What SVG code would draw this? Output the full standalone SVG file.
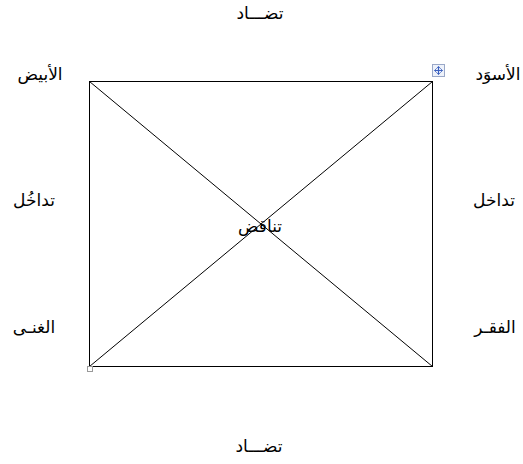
<svg xmlns="http://www.w3.org/2000/svg" width="523" height="464" viewBox="0 0 523 464">
<style>
text{font-family:"Liberation Serif","DejaVu Sans",serif;font-size:17px;fill:#000;text-anchor:middle;direction:rtl}
.ln{stroke:#000;stroke-width:1;fill:none}
</style>
<rect width="523" height="464" fill="#fff"/>
<g id="connectors">
<rect class="ln" x="89.5" y="81.5" width="343" height="285"/>
<line class="ln" x1="89.5" y1="81.5" x2="432.5" y2="366.5"/>
<line class="ln" x1="432.5" y1="81.5" x2="89.5" y2="366.5"/>
</g>
<g id="handles">
<rect x="432.5" y="64.5" width="12" height="12" fill="#eef2fa" stroke="#9aa8c8" stroke-width="1"/>
<path d="M438.5 66.5v8M434.5 70.5h8" stroke="#3a5fbf" stroke-width="1.2"/>
<path d="M436.5 68.5l2-2 2 2M436.5 72.5l2 2 2-2M436.5 68.5l-2 2 2 2M440.5 68.5l2 2-2 2" stroke="#3a5fbf" stroke-width="0.8" fill="none"/>
<rect x="87.5" y="366.5" width="5" height="5" fill="#fff" stroke="#999" stroke-width="1"/>
</g>
<g id="top"><text x="260" y="19">تضـــاد</text></g>
<g id="bottom"><text x="259" y="452">تضـــاد</text></g>
<g id="white"><text x="40" y="80">الأبيض</text></g>
<g id="black"><text x="498" y="80">الأسوَد</text></g>
<g id="overlapL"><text x="34" y="206">تداخُل</text></g>
<g id="overlapR"><text x="494" y="206">تداخل</text></g>
<g id="contra"><text x="260" y="232">تناقض</text></g>
<g id="rich"><text x="34" y="333">الغنـى</text></g>
<g id="poor"><text x="495" y="333">الفقـر</text></g>
</svg>
